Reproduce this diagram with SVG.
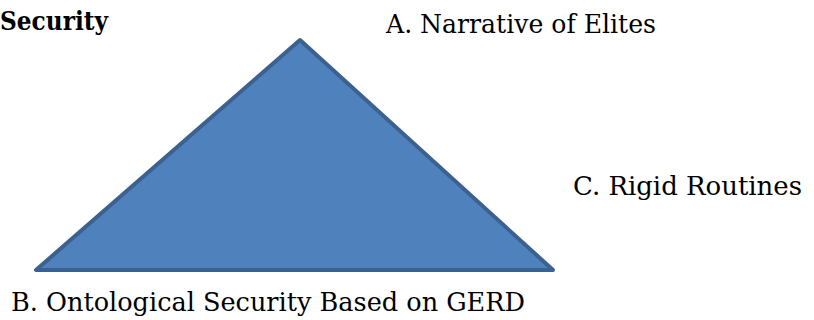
<svg xmlns="http://www.w3.org/2000/svg" width="814" height="320" viewBox="0 0 814 320">
  <style>
    text { font-family: 'DejaVu Serif', 'Liberation Serif', serif; font-size: 26px; fill: #000; }
    .bold { font-weight: bold; }
    .tri { fill: #4f81bd; stroke: #3b6190; stroke-width: 4; stroke-linejoin: round; }
  </style>
  <rect width="814" height="320" fill="#fff"/>
  <g id="triangle">
    <polygon class="tri" points="300,40 36,270 553,270"/>
  </g>
  <g id="title">
    <text class="bold" x="0" y="30" textLength="108" lengthAdjust="spacingAndGlyphs">Security</text>
  </g>
  <g id="label-a">
    <text x="386" y="33" textLength="270" lengthAdjust="spacingAndGlyphs">A. Narrative of Elites</text>
  </g>
  <g id="label-c">
    <text x="573" y="195" textLength="229" lengthAdjust="spacingAndGlyphs">C. Rigid Routines</text>
  </g>
  <g id="label-b">
    <text x="11" y="311" textLength="514" lengthAdjust="spacingAndGlyphs">B. Ontological Security Based on GERD</text>
  </g>
</svg>
